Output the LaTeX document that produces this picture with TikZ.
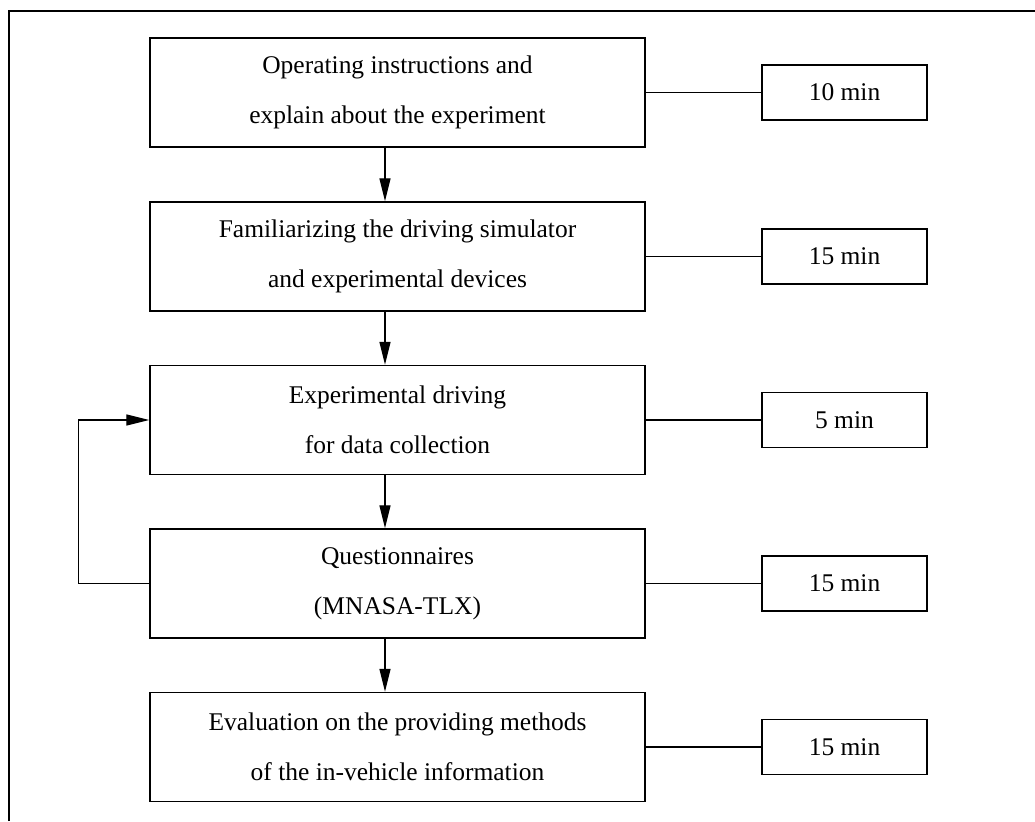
\documentclass[tikz,border=0pt]{standalone}
\usepackage{fontspec}
\setmainfont{Liberation Serif}
\usetikzlibrary{positioning,arrows.meta}
\tikzset{
  >={Triangle[length=4.6mm,width=2.2mm]},
  stage/.style={draw=black,line width=0.8pt,minimum width=9.9cm,minimum height=2.18cm,align=center,
    inner sep=0pt,font=\fontsize{14.5}{28.5}\selectfont},
  tbox/.style={draw=black,line width=0.8pt,minimum width=3.3cm,minimum height=1.1cm,inner sep=0pt,
    font=\fontsize{14.5}{17}\selectfont},
  flow/.style={->,draw=black,line width=0.75pt},
  link/.style={draw=black,line width=0.75pt},
}
\begin{document}
\begin{tikzpicture}[x=1cm,y=1cm]
  \useasboundingbox (0,0) rectangle (20.7,-16.42);
  % outer frame, only its left and top edges are seen
  \draw[line width=0.8pt] (0.18,-16.42) -- (0.18,-0.22) -- (20.7,-0.22);
  % stages, each with its duration on the right
  \foreach \k/\y/\t/\d in {1/-1.85/{Operating instructions and\\explain about the experiment}/10 min,
                          2/-5.13/{Familiarizing the driving simulator\\and experimental devices}/15 min,
                          3/-8.40/{Experimental driving\\for data collection}/5 min,
                          4/-11.67/{Questionnaires\\(MNASA-TLX)}/15 min,
                          5/-14.94/{Evaluation on the providing methods\\of the in-vehicle information}/15 min}{
    \node[stage] (s\k) at (7.95,\y) {\t};
    \node[tbox] (t\k) at (16.89,\y) {\d};
    \draw[link] (s\k.east) -- (t\k.west);
  }
  % stage -> next stage
  \foreach \a/\b in {1/2,2/3,3/4,4/5}
    \draw[flow] ([xshift=-2.5mm]s\a.south) -- ([xshift=-2.5mm]s\a.south |- s\b.north);
  % repeat loop
  \draw[flow] (s4.west) -- ++(-1.42,0) |- (s3.west);
\end{tikzpicture}
\end{document}
